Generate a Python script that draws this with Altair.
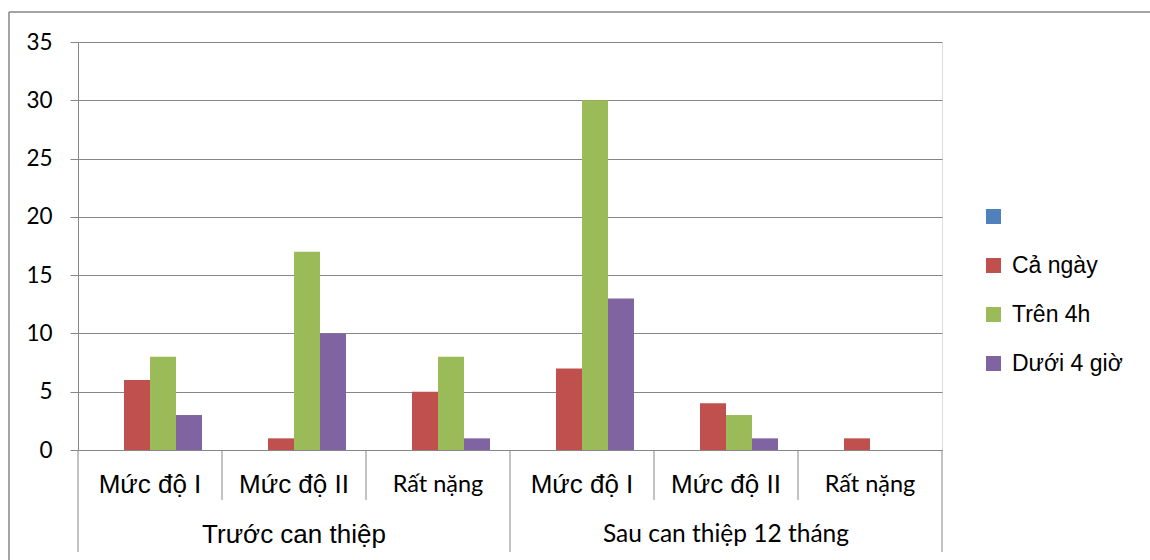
import altair as alt
import pandas as pd

# ---- data ----
groups = ["Trước can thiệp", "Sau can thiệp 12 tháng"]
levels = ["Mức độ I", "Mức độ II", "Rất nặng"]
series = ["", "Cả ngày", "Trên 4h", "Dưới 4 giờ"]
colors = ["#4F81BD", "#C0504D", "#9BBB59", "#8064A2"]
blank_vals = [0, 0, 0, 0, 0, 0]
ca_ngay = [6, 1, 5, 7, 4, 1]
tren_4h = [8, 17, 8, 30, 3, 0]
duoi_4gio = [3, 10, 1, 13, 1, 0]
y_ticks = [0, 5, 10, 15, 20, 25, 30, 35]

keys = [f"{g}|{l}" for g in groups for l in levels]
rows = []
for s, vals in zip(series, [blank_vals, ca_ngay, tren_4h, duoi_4gio]):
    for k, v in zip(keys, vals):
        rows.append({"key": k, "series": s, "value": v})
df = pd.DataFrame(rows)

GRID = "#868686"
W, H = 864, 408

x_scale = alt.Scale(domain=keys, paddingInner=0, paddingOuter=0)

bars = alt.Chart(df).mark_bar().encode(
    x=alt.X(
        "key:N", scale=x_scale, sort=keys, title=None,
        axis=alt.Axis(
            labelExpr="split(datum.label, '|')[1]",
            ticks=False, tickSize=0, domain=False, grid=False,
            labelAngle=0, labelBaseline="middle", labelPadding=34,
            labelColor="#000000",
            labelFont={"condition": {"test": "indexof(datum.label, 'Rất') >= 0", "value": "Lato"}, "value": "Liberation Sans"},
            labelFontSize={"condition": {"test": "indexof(datum.label, 'Rất') >= 0", "value": 23.5}, "value": 26},
        ),
    ),
    xOffset=alt.XOffset("series:N", sort=series,
                        scale=alt.Scale(domain=series, paddingInner=0, paddingOuter=0.77)),
    y=alt.Y(
        "value:Q", title=None,
        scale=alt.Scale(domain=[0, 35], nice=False),
        axis=alt.Axis(values=y_ticks, grid=True, gridColor=GRID, gridWidth=1,
                      domain=True, domainColor=GRID, domainWidth=1,
                      ticks=True, tickSize=8, tickColor=GRID, tickWidth=1,
                      labelPadding=18, labelFont="Lato", labelFontSize=22.5,
                      labelColor="#000000"),
    ),
    color=alt.Color(
        "series:N", sort=series,
        scale=alt.Scale(domain=series, range=colors),
        legend=alt.Legend(title=None, orient="none", legendX=904, legendY=163,
                          symbolType="square", symbolSize=225, symbolStrokeWidth=0,
                          labelFont="Liberation Sans", labelFontSize=23,
                          labelColor="#000000", labelOffset=7, rowPadding=25,
                          padding=0),
    ),
)

sep_df = pd.DataFrame({"key": keys,
                       "major": [i % len(levels) == 0 for i in range(len(keys))]})
end_df = pd.DataFrame({"key": [keys[-1]]})

sep_major = alt.Chart(sep_df).transform_filter("datum.major").mark_rule(
    color=GRID, strokeWidth=1).encode(
    x=alt.X("key:N", bandPosition=0, scale=x_scale, sort=keys, title=None),
    y=alt.value(H), y2=alt.value(H + 102))
sep_minor = alt.Chart(sep_df).transform_filter("!datum.major").mark_rule(
    color=GRID, strokeWidth=1).encode(
    x=alt.X("key:N", bandPosition=0, scale=x_scale, sort=keys, title=None),
    y=alt.value(H), y2=alt.value(H + 50))
sep_end = alt.Chart(end_df).mark_rule(color=GRID, strokeWidth=1).encode(
    x=alt.X("key:N", bandPosition=1, scale=x_scale, sort=keys, title=None),
    y=alt.value(H), y2=alt.value(H + 102))

grp_fonts = [("Liberation Sans", 26), ("Lato", 24.5)]
grp_layers = []
for g, (font, size) in zip(groups, grp_fonts):
    gdf = pd.DataFrame({"key": [f"{g}|{levels[len(levels) // 2]}"], "label": [g]})
    grp_layers.append(
        alt.Chart(gdf).mark_text(font=font, fontSize=size, color="#000000",
                                 baseline="middle", align="center").encode(
            x=alt.X("key:N", scale=x_scale, sort=keys, title=None),
            y=alt.value(H + 85),
            text="label:N"))

frame_df = pd.DataFrame({"a": [0]})
frame_left = alt.Chart(frame_df).mark_rule(color=GRID, strokeWidth=1.5).encode(
    x=alt.value(-69), y=alt.value(-30), y2=alt.value(H + 200))
frame_top = alt.Chart(frame_df).mark_rule(color=GRID, strokeWidth=1.5).encode(
    x=alt.value(-69), x2=alt.value(W + 300), y=alt.value(-30))

chart = alt.layer(frame_left, frame_top, bars, sep_major, sep_minor, sep_end,
                  *grp_layers).properties(
    width=W, height=H,
    autosize=alt.AutoSizeParams(type="none"),
    padding={"left": 78, "top": 42, "right": 208, "bottom": 110},
).configure_view(stroke=None).configure(background="#ffffff")

chart.save("out.html", embed_options={"renderer": "svg", "actions": False})
